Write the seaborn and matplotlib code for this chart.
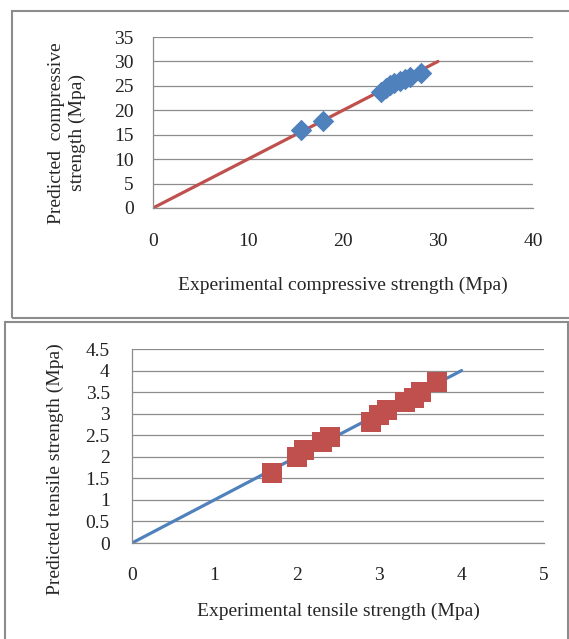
import matplotlib
matplotlib.use("Agg")
import matplotlib.pyplot as plt
import seaborn as sns
import pandas as pd
from matplotlib.patches import Rectangle

# compressive strength (Mpa)
comp_exp = [15.6, 17.9, 24.0, 24.5, 24.9, 25.4, 26.0, 26.5, 27.0, 28.2]
comp_pred = [16.0, 17.9, 23.8, 24.5, 25.2, 25.5, 26.0, 26.5, 26.9, 27.6]
comp_line_x = [0, 30]
comp_line_y = [0, 30]

# tensile strength (Mpa)
tens_exp = [1.70, 2.00, 2.09, 2.31, 2.40, 2.90, 3.00, 3.09, 3.31, 3.42, 3.51, 3.70]
tens_pred = [1.62, 2.00, 2.16, 2.35, 2.47, 2.81, 2.97, 3.09, 3.28, 3.36, 3.51, 3.74]
tens_line_x = [0, 4]
tens_line_y = [0, 4]

BLUE = "#4F81BD"
RED = "#C0504D"
GRID = "#8c8c8c"

sns.set_theme(style="white")
plt.rcParams.update({
    'font.family': ['Liberation Serif', 'DejaVu Serif'],
    'font.size': 14,
    'axes.labelsize': 14,
    'xtick.labelsize': 14,
    'ytick.labelsize': 14,
})


def style_axes(ax, xpad, ypad):
    ax.grid(axis='y', color=GRID, linewidth=0.9)
    ax.grid(axis='x', visible=False)
    ax.set_axisbelow(True)
    for s in ['top', 'right']:
        ax.spines[s].set_visible(False)
    ax.spines['left'].set_color(GRID)
    ax.spines['bottom'].set_color(GRID)
    ax.spines['left'].set_linewidth(0.9)
    ax.spines['bottom'].set_linewidth(0.9)
    ax.tick_params(axis='x', length=0, pad=xpad, colors='#222222')
    ax.tick_params(axis='y', length=0, pad=ypad, colors='#222222')


fig = plt.figure(figsize=(5.69, 6.39), dpi=100)

# chart frames
fig.patches.append(Rectangle((12 / 569, 1 - 318 / 639), 0.99, 307 / 639,
                             transform=fig.transFigure, fill=False,
                             edgecolor='#8c8c8c', linewidth=1.5))
fig.patches.append(Rectangle((5 / 569, -0.01), 0.99, 1 - 322 / 639 + 0.01,
                             transform=fig.transFigure, fill=False,
                             edgecolor='#8c8c8c', linewidth=1.5))

# top: compressive
ax1 = fig.add_axes([153 / 569, 1 - 208 / 639, 380 / 569, 171 / 639])
df_c = pd.DataFrame({'x': comp_exp, 'y': comp_pred})
sns.lineplot(x=comp_line_x, y=comp_line_y, ax=ax1, color=RED, linewidth=2.3)
sns.scatterplot(data=df_c, x='x', y='y', ax=ax1, marker='D', s=120,
                color=BLUE, edgecolor=BLUE, linewidth=0, zorder=3)
ax1.set_xlim(0, 40)
ax1.set_ylim(0, 35)
ax1.set_xticks(range(0, 41, 10))
ax1.set_yticks(range(0, 36, 5))
style_axes(ax1, 18, 14)
ax1.set_xlabel('Experimental compressive strength (Mpa)', labelpad=19)
ax1.set_ylabel('Predicted  compressive\nstrength (Mpa)', linespacing=1.35)
ax1.yaxis.set_label_coords(-0.175, 0.44)

# bottom: tensile
ax2 = fig.add_axes([132 / 569, 1 - 543 / 639, 412 / 569, 194 / 639])
df_t = pd.DataFrame({'x': tens_exp, 'y': tens_pred})
sns.lineplot(x=tens_line_x, y=tens_line_y, ax=ax2, color=BLUE, linewidth=2.3)
sns.scatterplot(data=df_t, x='x', y='y', ax=ax2, marker='s', s=215,
                color=RED, edgecolor=RED, linewidth=0, zorder=3)
ax2.set_xlim(0, 5)
ax2.set_ylim(0, 4.5)
ax2.set_xticks(range(0, 6))
ax2.set_yticks([0, 0.5, 1, 1.5, 2, 2.5, 3, 3.5, 4, 4.5])
ax2.set_yticklabels(['0', '0.5', '1', '1.5', '2', '2.5', '3', '3.5', '4', '4.5'])
style_axes(ax2, 17, 16)
ax2.set_xlabel('Experimental tensile strength (Mpa)', labelpad=14)
ax2.set_ylabel('Predicted tensile strength (Mpa)')
ax2.yaxis.set_label_coords(-0.165, 0.38)

fig.savefig('out.png', dpi=100)
